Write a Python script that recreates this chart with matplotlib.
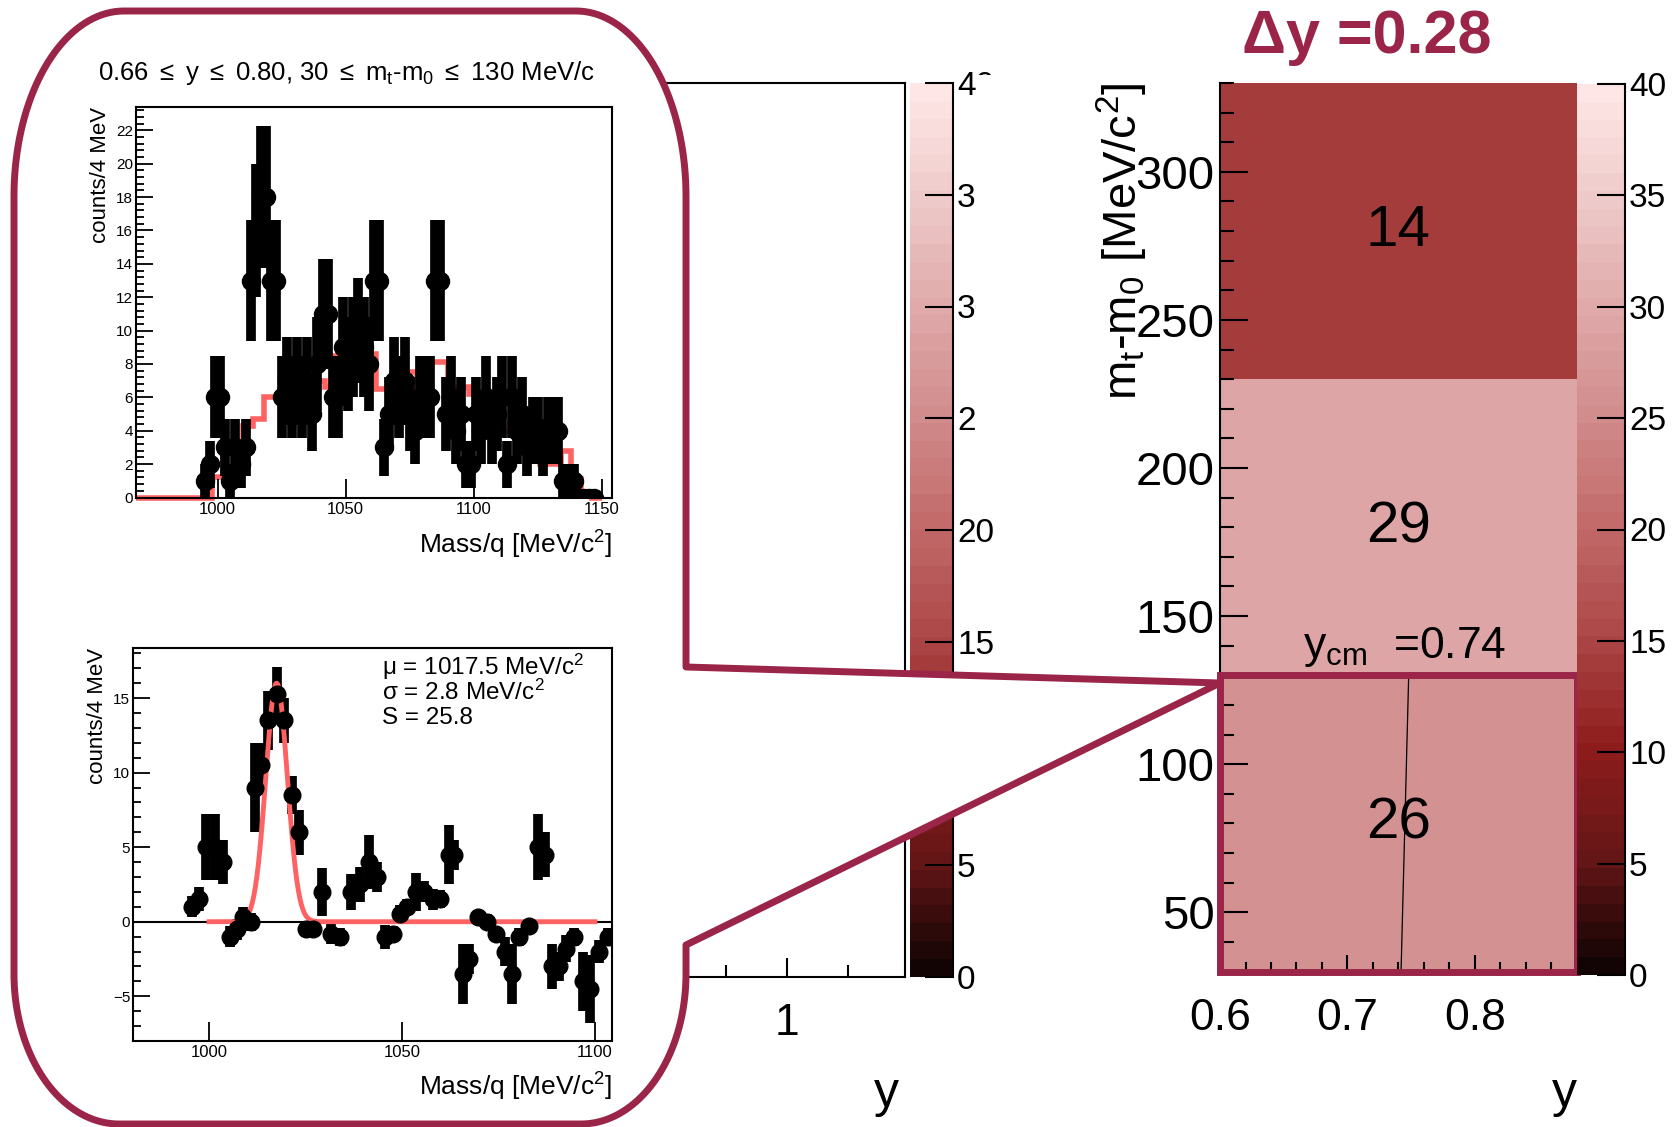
import numpy as np
import matplotlib
matplotlib.use('Agg')
import matplotlib.pyplot as plt
from matplotlib.colors import LinearSegmentedColormap, ListedColormap, Normalize
from matplotlib.cm import ScalarMappable
from matplotlib.patches import PathPatch, Rectangle
from matplotlib.path import Path
from matplotlib.ticker import MultipleLocator, FixedLocator

plt.rcParams['font.family'] = ['Liberation Sans', 'DejaVu Sans']
plt.rcParams['mathtext.fontset'] = 'custom'
plt.rcParams['mathtext.rm'] = 'Liberation Sans'
plt.rcParams['mathtext.it'] = 'Liberation Sans:italic'
plt.rcParams['mathtext.bf'] = 'Liberation Sans:bold'

W, H = 1674, 1127
MAROON = '#9A2549'
RED = '#FF6262'

# right panel: yield in (y, mt-m0) cells
y_edges = [0.60, 0.88]
mt_edges = [30, 130, 230, 330]
cell_counts = [26, 29, 14]
y_cm = 0.74
cbar_ticks = [0, 5, 10, 15, 20, 25, 30, 35, 40]

# palette (value -> colour)
pal_vals = [0, 5, 10, 15, 20, 25, 30, 35, 40]
pal_cols = ['#120404', '#661616', '#8E1C1C', '#AC4646', '#C26868',
            '#D08A8A', '#DFA8A8', '#EDC8C8', '#FFE6E6']

# top inset: raw spectrum (2 MeV bins) and model histogram
top_mass = np.arange(995, 1148, 2)
top_counts = [1, 2, 6, 6, 3, 1, 3, 2, 3, 13,
              16, 18, 18, 13, 13, 6, 7, 6, 7, 6,
              7, 5, 8, 11, 11, 6, 6, 9, 8, 9,
              10, 9, 8, 13, 13, 3, 5, 7, 6, 7,
              5, 4, 6, 6, 6, 13, 13, 5, 6, 4,
              5, 2, 2, 5, 4, 6, 4, 5, 6, 2,
              6, 4, 5, 3, 4, 4, 3, 4, 4, 4,
              1, 1, 1, 0, 0, 0, 0]
model_edges = [968] + list(range(998, 1151, 4))
model_vals = [0, 1.2, 2.9, 2.9, 4.3, 4.7, 6.0, 6.0, 5.9, 6.6, 4.8,
              7.0, 6.6, 8.5, 8.2, 8.0, 8.6, 6.5, 7.0, 7.4, 7.5,
              6.5, 8.1, 8.1, 6.1, 6.6, 6.2, 5.4, 5.4, 3.9, 4.6,
              3.0, 2.2, 2.0, 2.0, 2.8, 1.1, 0.3, 0.0]

# bottom inset: background-subtracted spectrum
bot_mass = [995.6, 997.5, 999.3, 1001.5, 1003.6, 1005.4, 1007.3, 1008.7, 1011.0, 1012.0,
            1013.4, 1015.3, 1017.6, 1019.5, 1021.4, 1023.2, 1025.1, 1027.0, 1029.3, 1031.7,
            1034.0, 1036.8, 1039.2, 1041.5, 1043.4, 1045.7, 1047.6, 1049.5, 1051.4, 1053.7,
            1055.6, 1057.9, 1059.8, 1062.1, 1063.5, 1065.9, 1067.3, 1069.6, 1072.0, 1074.3,
            1076.6, 1078.5, 1080.4, 1082.8, 1085.1, 1087.0, 1088.8, 1090.7, 1092.6, 1094.5,
            1096.8, 1098.7, 1101.0, 1103.4]
bot_counts = [1.0, 1.5, 5.0, 5.0, 4.0, -1.0, -0.5, 0.3, 0.0, 9.0,
              10.5, 13.5, 15.3, 13.5, 8.5, 6.0, -0.5, -0.5, 2.0, -0.8,
              -1.0, 2.0, 2.5, 4.0, 3.0, -1.0, -0.8, 0.5, 1.0, 2.0,
              2.0, 1.5, 1.5, 4.5, 4.5, -3.5, -2.5, 0.3, 0.0, -0.8,
              -2.0, -3.5, -1.0, -0.3, 5.0, 4.5, -3.0, -3.0, -1.8, -1.0,
              -4.0, -4.5, -2.0, -1.0]
bot_err = [0.7, 0.8, 2.2, 2.2, 1.5, 0.7, 0.7, 0.7, 0.6, 3.0,
           1.5, 2.0, 1.8, 1.5, 1.3, 1.5, 0.5, 0.5, 1.6, 0.7,
           0.6, 1.2, 1.2, 1.8, 1.0, 0.8, 0.5, 0.6, 0.5, 1.3,
           0.7, 0.7, 0.6, 2.0, 1.0, 2.0, 1.0, 0.5, 0.5, 0.4,
           1.0, 2.0, 0.6, 0.5, 2.2, 1.5, 1.5, 1.0, 0.9, 0.6,
           2.0, 2.3, 0.8, 0.6]
fit_mu, fit_sigma, fit_amp = 1017.5, 2.8, 16.0


def rect(x0, y0, x1, y1):
    return [x0 / W, 1 - y1 / H, (x1 - x0) / W, (y1 - y0) / H]


base = LinearSegmentedColormap.from_list(
    'root', list(zip(np.array(pal_vals) / 40.0, pal_cols)))
cmap = ListedColormap(base(np.linspace(0, 1, 50)))
norm = Normalize(0, 40)

fig = plt.figure(figsize=(W / 100, H / 100), dpi=100)


def palette_axis(cax):
    cb = fig.colorbar(ScalarMappable(norm=norm, cmap=cmap), cax=cax, ticks=cbar_ticks)
    cb.outline.set_visible(False)
    cax.plot([1, 1], [0, 1], transform=cax.transAxes, color='k', lw=1.5, clip_on=False)
    cax.tick_params(direction='in', length=20, width=1.5, labelsize=24, pad=3)
    return cb


# ---- middle (mostly hidden) panel ----
axm = fig.add_axes(rect(560, 83, 905, 977))
axm.set_xlim(0.625, 1.195)
axm.set_ylim(30, 330)
axm.set_xticks([1.0])
axm.set_xticklabels(['1'])
axm.set_xticks([0.7, 0.8, 0.9, 1.1], minor=True)
axm.set_yticks([])
axm.tick_params(axis='x', which='major', direction='in', length=14, width=1.5,
                labelsize=32, pad=19)
axm.tick_params(axis='x', which='minor', direction='in', length=9, width=1.5)
for s in axm.spines.values():
    s.set_linewidth(1.5)
axm.text(0.945, -0.131, 'y', transform=axm.transAxes, fontsize=36,
         ha='center', va='center')

caxm = fig.add_axes(rect(910, 83, 953, 977))
palette_axis(caxm)

# white area that clips the middle palette labels
fig.add_artist(Rectangle((976 / W, 1 - 470 / H), 119 / W, 395 / H,
                         transform=fig.transFigure, facecolor='white',
                         edgecolor='none', zorder=1))

# ---- right panel ----
axr = fig.add_axes(rect(1220, 83, 1577, 971.5))
axr.set_zorder(2)
axr.pcolormesh(y_edges, mt_edges, np.array(cell_counts).reshape(-1, 1),
               cmap=cmap, norm=norm)
axr.set_xlim(0.6, 0.88)
axr.set_ylim(30, 330)
axr.xaxis.set_major_locator(FixedLocator([0.6, 0.7, 0.8]))
axr.xaxis.set_minor_locator(MultipleLocator(0.02))
axr.yaxis.set_major_locator(MultipleLocator(50))
axr.yaxis.set_minor_locator(MultipleLocator(10))
axr.tick_params(axis='x', which='major', direction='in', length=12, width=1.5,
                labelsize=32, pad=19)
axr.tick_params(axis='x', which='minor', direction='in', length=7, width=1.5)
axr.tick_params(axis='y', which='major', direction='in', length=20, width=1.5,
                labelsize=34, pad=4)
axr.tick_params(axis='y', which='minor', direction='in', length=10, width=1.5)
axr.spines['top'].set_visible(False)
axr.spines['right'].set_visible(False)
axr.spines['left'].set_linewidth(1.5)
axr.spines['bottom'].set_linewidth(1.5)

xc = 0.5 * (y_edges[0] + y_edges[1])
for i, c in enumerate(cell_counts):
    axr.text(xc, 0.5 * (mt_edges[i] + mt_edges[i + 1]), str(c), fontsize=42,
             ha='center', va='center')

axr.plot([y_cm + 0.008, y_cm + 0.002], [mt_edges[1], mt_edges[0]], color='k', lw=0.9)
axr.text(0.745, 136, r'y$_{\mathregular{cm}}$  =0.74', fontsize=32,
         ha='center', va='baseline')
axr.add_patch(Rectangle((y_edges[0], mt_edges[0]), y_edges[1] - y_edges[0],
                        mt_edges[1] - mt_edges[0], fill=False, edgecolor=MAROON,
                        lw=5, clip_on=False, zorder=6))

axr.set_ylabel(r'm$_{\mathregular{t}}$-m$_{\mathregular{0}}$ [MeV/c$^{\mathregular{2}}$]',
               fontsize=34, loc='top')
axr.yaxis.set_label_coords(-0.196, 1.0)
axr.text(0.964, -0.138, 'y', transform=axr.transAxes, fontsize=36,
         ha='center', va='center')

caxr = fig.add_axes(rect(1577, 84, 1625, 975))
caxr.set_zorder(2)
palette_axis(caxr)

fig.text(1367 / W, 1 - 37 / H, '\u0394y =0.28', fontsize=44, fontweight='bold',
         color=MAROON, ha='center', va='center')

# ---- callout bubble ----
L, T, R, B = 14, H - 11, 686, H - 1124
rxt, ryt = 110, 185
rxb, ryb = 105, 150
up, lo = H - 667, H - 945
apex = (1220, H - 683)


def arc(cx, cy, rx, ry, a0, a1):
    t = np.radians(np.linspace(a0, a1, 40))
    return list(zip(cx + rx * np.cos(t), cy + ry * np.sin(t)))


pts = [(R, up), (R, T - ryt)]
pts += arc(R - rxt, T - ryt, rxt, ryt, 0, 90)
pts += arc(L + rxt, T - ryt, rxt, ryt, 90, 180)
pts += arc(L + rxb, B + ryb, rxb, ryb, 180, 270)
pts += arc(R - rxb, B + ryb, rxb, ryb, 270, 360)
pts += [(R, lo), apex, (R, up)]
verts = [(x / W, y / H) for x, y in pts]
codes = [Path.MOVETO] + [Path.LINETO] * (len(verts) - 2) + [Path.CLOSEPOLY]
fig.add_artist(PathPatch(Path(verts, codes), transform=fig.transFigure,
                         facecolor='white', edgecolor=MAROON, lw=5,
                         joinstyle='round', zorder=3))


def inset_style(ax):
    for s in ax.spines.values():
        s.set_linewidth(1.5)
    ax.tick_params(which='both', direction='in', top=False, right=False, width=1.3)
    ax.tick_params(axis='x', which='major', length=14, labelsize=12, pad=3)
    ax.tick_params(axis='y', which='major', length=12, labelsize=11, pad=2)
    ax.tick_params(axis='y', which='minor', length=6)


# ---- top inset ----
axt = fig.add_axes(rect(135.6, 107, 612, 497.5))
axt.set_zorder(4)
axt.errorbar(top_mass, top_counts, yerr=np.sqrt(top_counts), xerr=1.2, fmt='o',
             color='k', ms=13, elinewidth=7, capsize=0)
axt.stairs(model_vals, model_edges, color=RED, lw=4, clip_on=False)
axt.set_xlim(968, 1154)
axt.set_ylim(0, 23.4)
axt.xaxis.set_major_locator(FixedLocator([1000, 1050, 1100, 1150]))
axt.yaxis.set_major_locator(MultipleLocator(2))
axt.yaxis.set_minor_locator(MultipleLocator(0.4))
inset_style(axt)
axt.text(0.4437, 1.088,
         r'0.66 $\leq$ y $\leq$ 0.80, 30 $\leq$ m$_{\mathregular{t}}$-m$_{\mathregular{0}}$ $\leq$ 130 MeV/c',
         transform=axt.transAxes, fontsize=18.5, ha='center', va='center')
axt.set_ylabel('counts/4 MeV', fontsize=16, loc='top')
axt.yaxis.set_label_coords(-0.052, 1.0)
axt.set_xlabel(r'Mass/q [MeV/c$^{\mathregular{2}}$]', fontsize=19, loc='right')
axt.xaxis.set_label_coords(1.0, -0.08)

# ---- bottom inset ----
axb = fig.add_axes(rect(133, 648, 612, 1041))
axb.set_zorder(4)
axb.axhline(0, color='k', lw=1.5)
axb.errorbar(bot_mass, bot_counts, yerr=bot_err, xerr=1.3, fmt='o',
             color='k', ms=12, elinewidth=7, capsize=0)
fit_x = np.linspace(1000, 1100, 800)
fit_y = fit_amp * np.exp(-0.5 * ((fit_x - fit_mu) / fit_sigma) ** 2)
axb.plot(fit_x, fit_y, color=RED, lw=3.5)
axb.set_xlim(980.3, 1104.4)
axb.set_ylim(-8.0, 18.36)
axb.xaxis.set_major_locator(FixedLocator([1000, 1050, 1100]))
axb.yaxis.set_major_locator(MultipleLocator(5))
axb.yaxis.set_minor_locator(MultipleLocator(1))
inset_style(axb)
stats = [r'$\mathregular{\mu}$ = 1017.5 MeV/c$^{\mathregular{2}}$',
         r'$\mathregular{\sigma}$ = 2.8 MeV/c$^{\mathregular{2}}$',
         'S = 25.8']
for s, yy in zip(stats, [0.952, 0.888, 0.822]):
    axb.text(0.52, yy, s, transform=axb.transAxes, fontsize=17.5, ha='left', va='center')
axb.set_ylabel('counts/4 MeV', fontsize=16, loc='top')
axb.yaxis.set_label_coords(-0.052, 1.0)
axb.set_xlabel(r'Mass/q [MeV/c$^{\mathregular{2}}$]', fontsize=19, loc='right')
axb.xaxis.set_label_coords(1.0, -0.076)

fig.savefig('out.png', dpi=100)
